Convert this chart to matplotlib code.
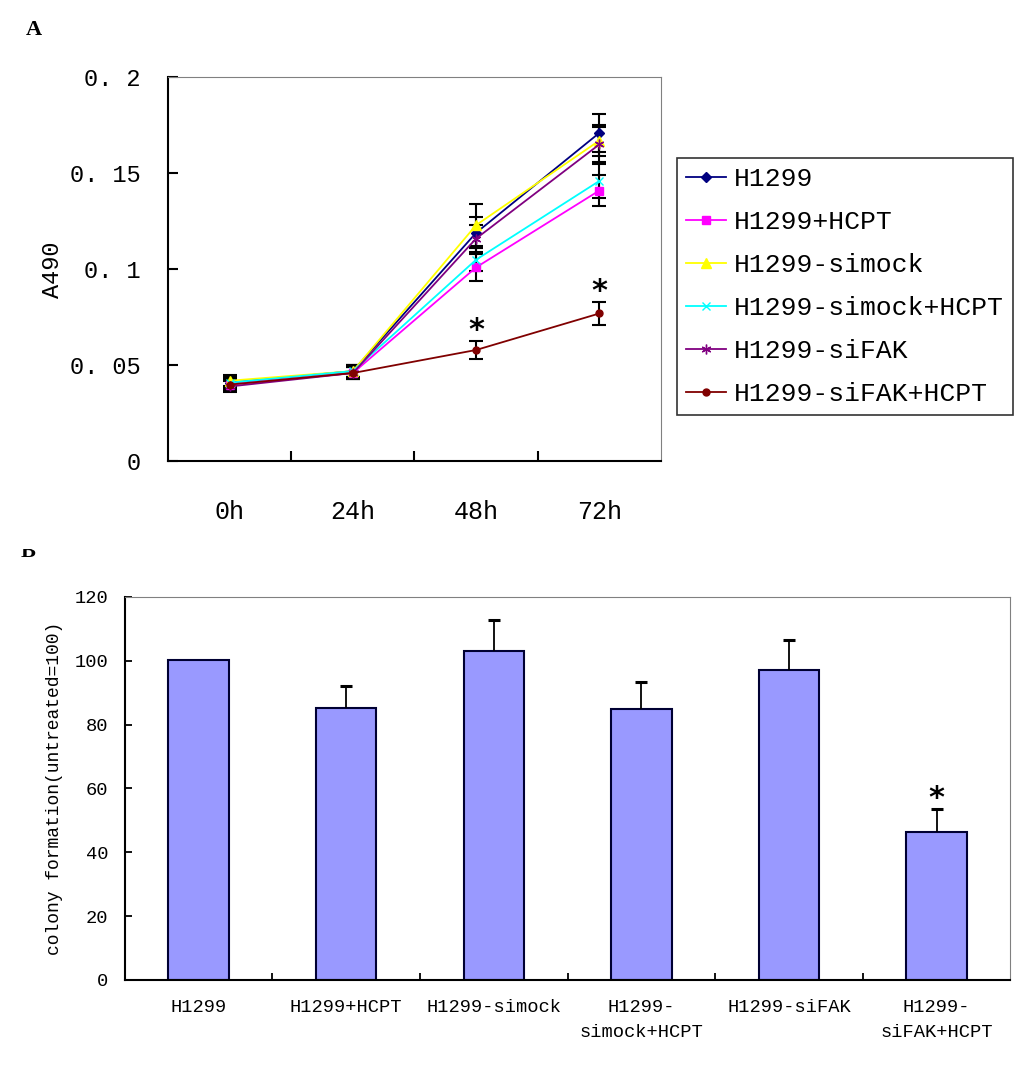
import numpy as np
import matplotlib
matplotlib.use('Agg')
import matplotlib.pyplot as plt
from matplotlib.transforms import Bbox

# panel A data
timepoints = ['0h', '24h', '48h', '72h']
series_names = ['H1299', 'H1299+HCPT', 'H1299-simock', 'H1299-simock+HCPT',
                'H1299-siFAK', 'H1299-siFAK+HCPT']
h1299 = [0.041, 0.047, 0.119, 0.171]
h1299_hcpt = [0.040, 0.046, 0.101, 0.141]
simock = [0.042, 0.047, 0.123, 0.167]
simock_hcpt = [0.041, 0.047, 0.105, 0.146]
sifak = [0.039, 0.046, 0.116, 0.165]
sifak_hcpt = [0.040, 0.046, 0.058, 0.077]
h1299_err = [0.003, 0.003, 0.008, 0.010]
h1299_hcpt_err = [0.003, 0.003, 0.007, 0.008]
simock_err = [0.003, 0.003, 0.011, 0.008]
simock_hcpt_err = [0.003, 0.003, 0.006, 0.009]
sifak_err = [0.003, 0.003, 0.007, 0.009]
sifak_hcpt_err = [0.003, 0.003, 0.0045, 0.006]

# panel B data
groups = ['H1299', 'H1299+HCPT', 'H1299-simock', 'H1299-\nsimock+HCPT',
          'H1299-siFAK', 'H1299-\nsiFAK+HCPT']
colony = [100.3, 85.3, 103.1, 84.9, 97.0, 46.5]
colony_err = [0, 6.8, 9.8, 8.6, 9.5, 7.2]

font = 'Liberation Mono'
plt.rcParams['font.family'] = font

fig = plt.figure(figsize=(10.31, 10.73), dpi=100)

# ---- panel A ----
ax1 = fig.add_axes([0.163, 0.570, 0.478, 0.358])
vals = [h1299, h1299_hcpt, simock, simock_hcpt, sifak, sifak_hcpt]
errs = [h1299_err, h1299_hcpt_err, simock_err, simock_hcpt_err, sifak_err, sifak_hcpt_err]
colors = ['#000080', '#FF00FF', '#FFFF00', '#00FFFF', '#800080', '#800000']
markers = ['D', 's', '^', 'x', (6, 2, 0), 'o']
msizes = [5, 6, 7, 6, 7, 5]
x = np.arange(len(timepoints))
for v, e, c, m, ms, name in zip(vals, errs, colors, markers, msizes, series_names):
    ax1.errorbar(x, v, yerr=e, fmt='none', ecolor='black', elinewidth=1.5,
                 capsize=5, capthick=1.5, zorder=2)
    ax1.plot(x, v, color=c, marker=m, markersize=ms, lw=1.3,
             markeredgecolor=c, label=name, zorder=3)
for i in [2, 3]:
    ax1.text(x[i], sifak_hcpt[i] + sifak_hcpt_err[i] - 0.002, '*', ha='center',
             va='bottom', fontsize=22, fontweight='bold', fontfamily='DejaVu Sans')

ax1.set_xlim(-0.5, 3.5)
ax1.set_ylim(0, 0.2)
ax1.set_yticks([0, 0.05, 0.1, 0.15, 0.2])
ax1.set_yticklabels(['0', '0. 05', '0. 1', '0. 15', '0. 2'], fontsize=17)
ax1.set_xticks(x)
ax1.set_xticklabels(timepoints, fontsize=18)
ax1.set_xticks([0.5, 1.5, 2.5], minor=True)
ax1.tick_params(axis='x', which='major', length=0, pad=28)
ax1.tick_params(axis='x', which='minor', length=7, direction='in', width=1.5)
ax1.tick_params(axis='y', length=7, direction='in', width=1.5, pad=20)
ax1.set_ylabel('A490', fontsize=17, labelpad=4)
for s in ['top', 'right']:
    ax1.spines[s].set_color('#808080')
for s in ['left', 'bottom']:
    ax1.spines[s].set_linewidth(1.5)

leg = ax1.legend(loc='upper left', bbox_to_anchor=(1.033, 0.79), fontsize=19,
                 frameon=True, fancybox=False, edgecolor='black', handlelength=1.5,
                 handletextpad=0.3, labelspacing=0.72, borderpad=0.35,
                 borderaxespad=0)
leg.get_frame().set_linewidth(1.2)

fig.text(0.025, 0.972, 'A', fontsize=16, fontweight='bold',
         fontfamily='Liberation Serif', va='center')

# ---- panel B ----
ax2 = fig.add_axes([0.121, 0.0867, 0.859, 0.357])
xb = np.arange(len(groups))
ax2.bar(xb, colony, width=0.41, color='#9999FF', edgecolor='#000033', linewidth=1.5,
        zorder=2)
top = np.array(colony) + np.array(colony_err)
has_err = np.array(colony_err) > 0
ax2.vlines(xb[has_err], np.array(colony)[has_err], top[has_err], color='black',
           lw=1.3, zorder=3)
ax2.plot(xb[has_err], top[has_err], ls='none', marker='_', ms=9, mew=2.2,
         color='black', zorder=3)
ax2.text(xb[5], top[5] - 1.5, '*', ha='center', va='bottom',
         fontsize=22, fontweight='bold', fontfamily='DejaVu Sans')
ax2.set_xlim(-0.5, 5.5)
ax2.set_ylim(0, 120)
ax2.set_yticks(np.arange(0, 121, 20))
ax2.set_yticklabels([str(t) for t in range(0, 121, 20)], fontsize=13.5)
ax2.set_xticks(xb)
ax2.set_xticklabels(groups, fontsize=13.5, linespacing=1.6)
ax2.set_xticks(np.arange(0.5, 5, 1), minor=True)
ax2.tick_params(axis='x', which='major', length=0, pad=14)
ax2.tick_params(axis='x', which='minor', length=5, direction='in', width=1.3)
ax2.tick_params(axis='y', length=5, direction='in', width=1.3, pad=12)
ax2.set_ylabel('colony formation(untreated=100)', fontsize=13, labelpad=8)
for s in ['top', 'right']:
    ax2.spines[s].set_color('#808080')
for s in ['left', 'bottom']:
    ax2.spines[s].set_linewidth(1.5)

# panel letter B, cut off at the top like in the source image
b = fig.text(0.020, 0.4808, 'B', fontsize=16, fontweight='bold',
             fontfamily='Liberation Serif', va='baseline')
b.set_clip_box(Bbox.from_extents(0, 0, 60, 1073 - 549))
b.set_clip_on(True)

fig.savefig('out.png', dpi=100)
